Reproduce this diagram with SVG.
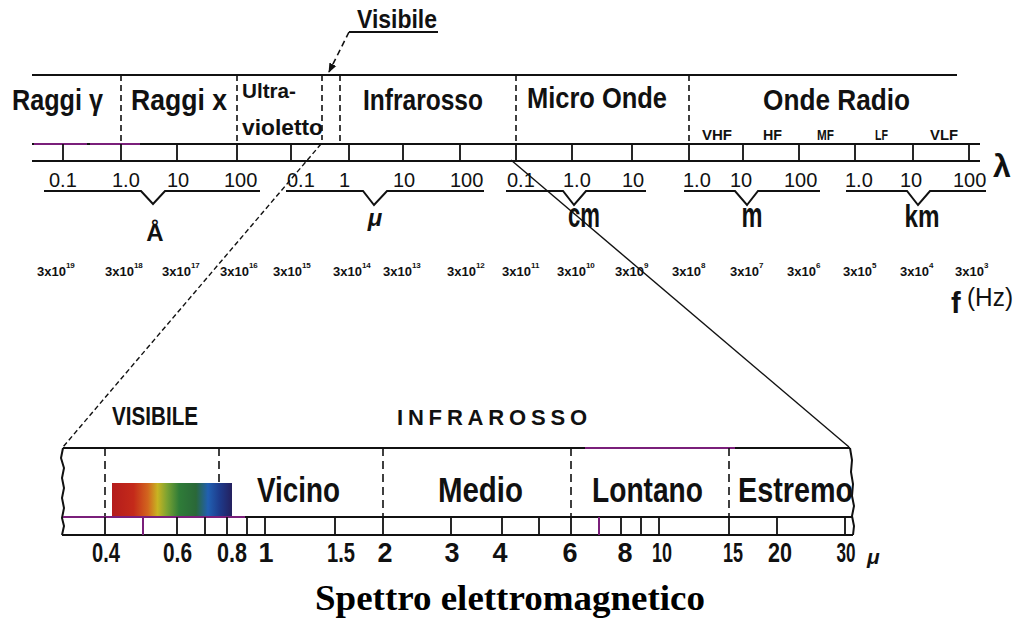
<svg xmlns="http://www.w3.org/2000/svg" width="1015" height="622" viewBox="0 0 1015 622">
  <defs>
    <style>
      .ln { stroke: #111; stroke-width: 2; fill: none; }
      .tk { stroke: #111; stroke-width: 1.8; fill: none; }
      .pu { stroke: #7a1f7a; stroke-width: 2; fill: none; }
      .ds { stroke: #111; stroke-width: 1.6; fill: none; stroke-dasharray: 6 4; }
      .dsb { stroke: #111; stroke-width: 1.6; fill: none; stroke-dasharray: 8 5; }
      .hd { font-family: "Liberation Sans", Arial, sans-serif; font-weight: bold; fill: #111; }
      .sc { font-family: "Liberation Sans", Arial, sans-serif; font-size: 20px; fill: #111; }
      .un { font-family: "Liberation Sans", Arial, sans-serif; font-weight: bold; fill: #111; }
      .fq { font-family: "Liberation Sans", Arial, sans-serif; font-weight: bold; font-size: 13px; fill: #111; }
      .fq tspan.e { font-size: 8px; }
      .bn { font-family: "Liberation Sans", Arial, sans-serif; font-weight: bold; font-size: 27px; fill: #111; text-anchor: middle; }
      .bl { font-family: "Liberation Sans", Arial, sans-serif; font-weight: bold; font-size: 35px; fill: #111; }
    </style>
    <linearGradient id="spectrum" x1="0" y1="0" x2="1" y2="0">
      <stop offset="0" stop-color="#b41c1c"/>
      <stop offset="0.18" stop-color="#c42a1a"/>
      <stop offset="0.3" stop-color="#d2661e"/>
      <stop offset="0.38" stop-color="#c8b422"/>
      <stop offset="0.46" stop-color="#7aa232"/>
      <stop offset="0.56" stop-color="#2f7c38"/>
      <stop offset="0.7" stop-color="#2a6838"/>
      <stop offset="0.8" stop-color="#2160b2"/>
      <stop offset="0.9" stop-color="#1e3a8a"/>
      <stop offset="1" stop-color="#24205e"/>
    </linearGradient>
    <marker id="arrow" viewBox="0 0 10 10" refX="9" refY="5" markerWidth="6" markerHeight="6" orient="auto">
      <path d="M0,1 L10,5 L0,9 z" fill="#111"/>
    </marker>
  </defs>

  <rect width="1015" height="622" fill="#fff"/>

  <!-- upper band: region names -->
  <g id="upper-band">
    <line class="ln" x1="32" y1="75" x2="957" y2="75"/>
    <line class="ds" x1="121" y1="75" x2="121" y2="144"/>
    <line class="ds" x1="237" y1="75" x2="237" y2="144"/>
    <line class="ds" x1="322" y1="75" x2="322" y2="140"/>
    <line class="ds" x1="340" y1="75" x2="340" y2="144"/>
    <line class="ds" x1="516" y1="75" x2="516" y2="144"/>
    <line class="ds" x1="689" y1="75" x2="689" y2="144"/>

    <text class="hd" x="12" y="110" font-size="29" textLength="91" lengthAdjust="spacingAndGlyphs">Raggi γ</text>
    <text class="hd" x="131" y="110" font-size="29" textLength="96" lengthAdjust="spacingAndGlyphs">Raggi x</text>
    <text class="hd" x="242" y="98" font-size="21" textLength="54" lengthAdjust="spacingAndGlyphs">Ultra-</text>
    <text class="hd" x="242" y="135" font-size="22" textLength="81" lengthAdjust="spacingAndGlyphs">violetto</text>
    <text class="hd" x="363" y="110" font-size="29" textLength="120" lengthAdjust="spacingAndGlyphs">Infrarosso</text>
    <text class="hd" x="527" y="108" font-size="29" textLength="140" lengthAdjust="spacingAndGlyphs">Micro Onde</text>
    <text class="hd" x="763" y="110" font-size="29" textLength="147" lengthAdjust="spacingAndGlyphs">Onde Radio</text>

    <text class="hd" x="702" y="140" font-size="15" textLength="30" lengthAdjust="spacingAndGlyphs">VHF</text>
    <text class="hd" x="763" y="140" font-size="15" textLength="19" lengthAdjust="spacingAndGlyphs">HF</text>
    <text class="hd" x="817" y="140" font-size="15" textLength="17" lengthAdjust="spacingAndGlyphs">MF</text>
    <text class="hd" x="875" y="140" font-size="15" textLength="13" lengthAdjust="spacingAndGlyphs">LF</text>
    <text class="hd" x="930" y="140" font-size="15" textLength="28" lengthAdjust="spacingAndGlyphs">VLF</text>

    <!-- visible-band callout -->
    <text class="hd" x="357" y="28" font-size="25" textLength="80" lengthAdjust="spacingAndGlyphs">Visibile</text>
    <line class="ln" x1="349" y1="32" x2="438" y2="32"/>
    <line class="ds" x1="349" y1="32" x2="329" y2="72" stroke-dasharray="4 3" marker-end="url(#arrow)"/>
  </g>

  <!-- wavelength ruler -->
  <g id="wavelength-ruler">
    <line class="ln" x1="32" y1="144" x2="980" y2="144"/>
    <line class="pu" x1="34" y1="144" x2="87" y2="144"/>
    <line class="pu" x1="90" y1="144" x2="140" y2="144"/>
    <line class="ln" x1="32" y1="161" x2="980" y2="161"/>
    <path class="tk" d="M63,144V161 M121,144V161 M177,144V161 M237,144V161 M291,144V161 M349,144V161 M403,144V161 M460,144V161 M516,144V161 M572,144V161 M632,144V161 M689,144V161 M743,144V161 M799,144V161 M855,144V161 M913,144V161 M969,144V161"/>
    <text class="un" x="993" y="177" font-size="32">λ</text>

    <g id="scale-angstrom">
      <text class="sc" x="49" y="187">0.1</text>
      <text class="sc" x="112" y="187">1.0</text>
      <text class="sc" x="167" y="187">10</text>
      <text class="sc" x="224" y="187">100</text>
      <path class="ln" d="M44,191 H141 L153,204 L165,191 H260"/>
      <text class="un" x="155" y="241" font-size="24" text-anchor="middle">Å</text>
    </g>
    <g id="scale-micron">
      <text class="sc" x="287" y="187">0.1</text>
      <text class="sc" x="339" y="187">1</text>
      <text class="sc" x="393" y="187">10</text>
      <text class="sc" x="450" y="187">100</text>
      <path class="ln" d="M286,191 H363 L374,205 L387,191 H484"/>
      <text class="un" x="375" y="226" font-size="24" font-style="italic" text-anchor="middle">μ</text>
    </g>
    <g id="scale-cm">
      <text class="sc" x="507" y="187">0.1</text>
      <text class="sc" x="563" y="187">1.0</text>
      <text class="sc" x="622" y="187">10</text>
      <path class="ln" d="M506,191 H563 L574,205 L586,191 H646"/>
      <text class="un" transform="translate(584,227) scale(1,1.35)" font-size="26" text-anchor="middle" textLength="32" lengthAdjust="spacingAndGlyphs">cm</text>
    </g>
    <g id="scale-m">
      <text class="sc" x="683" y="187">1.0</text>
      <text class="sc" x="730" y="187">10</text>
      <text class="sc" x="784" y="187">100</text>
      <path class="ln" d="M684,191 H735 L747,205 L758,191 H820"/>
      <text class="un" transform="translate(752,227) scale(1,1.35)" font-size="26" text-anchor="middle" textLength="21" lengthAdjust="spacingAndGlyphs">m</text>
    </g>
    <g id="scale-km">
      <text class="sc" x="845" y="187">1.0</text>
      <text class="sc" x="900" y="187">10</text>
      <text class="sc" x="953" y="187">100</text>
      <path class="ln" d="M846,191 H907 L918,205 L930,191 H986"/>
      <text class="un" transform="translate(922,227) scale(1,1.2)" font-size="26" text-anchor="middle" textLength="35" lengthAdjust="spacingAndGlyphs">km</text>
    </g>
  </g>

  <!-- frequency row -->
  <g id="frequency-row">
    <text class="fq" x="37" y="276">3x10<tspan class="e" dy="-8">19</tspan></text>
    <text class="fq" x="105" y="276">3x10<tspan class="e" dy="-8">18</tspan></text>
    <text class="fq" x="162" y="276">3x10<tspan class="e" dy="-8">17</tspan></text>
    <text class="fq" x="220" y="276">3x10<tspan class="e" dy="-8">16</tspan></text>
    <text class="fq" x="273" y="276">3x10<tspan class="e" dy="-8">15</tspan></text>
    <text class="fq" x="333" y="276">3x10<tspan class="e" dy="-8">14</tspan></text>
    <text class="fq" x="383" y="276">3x10<tspan class="e" dy="-8">13</tspan></text>
    <text class="fq" x="447" y="276">3x10<tspan class="e" dy="-8">12</tspan></text>
    <text class="fq" x="502" y="276">3x10<tspan class="e" dy="-8">11</tspan></text>
    <text class="fq" x="557" y="276">3x10<tspan class="e" dy="-8">10</tspan></text>
    <text class="fq" x="615" y="276">3x10<tspan class="e" dy="-8">9</tspan></text>
    <text class="fq" x="672" y="276">3x10<tspan class="e" dy="-8">8</tspan></text>
    <text class="fq" x="730" y="276">3x10<tspan class="e" dy="-8">7</tspan></text>
    <text class="fq" x="787" y="276">3x10<tspan class="e" dy="-8">6</tspan></text>
    <text class="fq" x="843" y="276">3x10<tspan class="e" dy="-8">5</tspan></text>
    <text class="fq" x="900" y="276">3x10<tspan class="e" dy="-8">4</tspan></text>
    <text class="fq" x="955" y="276">3x10<tspan class="e" dy="-8">3</tspan></text>
    <text class="un" x="951" y="313" font-size="29">f</text>
    <text x="967" y="306" style="font-family: 'Liberation Sans', Arial, sans-serif; font-size: 25px; fill: #111;" textLength="46" lengthAdjust="spacingAndGlyphs">(Hz)</text>
  </g>

  <!-- projection lines to the enlarged band -->
  <g id="connectors">
    <line x1="321" y1="144" x2="63" y2="447" stroke="#111" stroke-width="1.4" stroke-dasharray="5 3"/>
    <line x1="511" y1="160" x2="849" y2="447" stroke="#111" stroke-width="1.4"/>
  </g>

  <!-- enlarged visible / infrared band -->
  <g id="enlarged-band">
    <text class="hd" x="112" y="425" font-size="25" textLength="86" lengthAdjust="spacingAndGlyphs">VISIBILE</text>
    <text class="hd" x="397" y="425" font-size="22" textLength="190" lengthAdjust="spacing">INFRAROSSO</text>

    <line class="ln" x1="63" y1="448" x2="850" y2="448"/>
    <line class="pu" x1="585" y1="448" x2="735" y2="448"/>
    <path class="ln" d="M63,448 L61,458 L64,468 L62,478 L64,488 L62,498 L64,508 L62,518 L64,526 L62,535"/>
    <path class="ln" d="M850,448 L852,460 L851,472 L853,484 L852,496 L854,506 L852,516 L854,526 L853,535"/>

    <line class="dsb" x1="105" y1="448" x2="105" y2="517"/>
    <line class="dsb" x1="219" y1="448" x2="219" y2="517"/>
    <line class="dsb" x1="383" y1="448" x2="383" y2="517"/>
    <line class="dsb" x1="571" y1="448" x2="571" y2="517"/>
    <line class="dsb" x1="729" y1="448" x2="729" y2="517"/>

    <rect x="112" y="483" width="120" height="34" fill="url(#spectrum)"/>

    <text class="bl" x="257" y="502" textLength="83" lengthAdjust="spacingAndGlyphs">Vicino</text>
    <text class="bl" x="438" y="502" textLength="85" lengthAdjust="spacingAndGlyphs">Medio</text>
    <text class="bl" x="592" y="502" textLength="111" lengthAdjust="spacingAndGlyphs">Lontano</text>
    <text class="bl" x="738" y="502" textLength="115" lengthAdjust="spacingAndGlyphs">Estremo</text>

    <line class="ln" x1="62" y1="517" x2="853" y2="517"/>
    <line class="pu" x1="63" y1="517" x2="245" y2="517"/>
    <line class="ln" x1="62" y1="535" x2="853" y2="535"/>
    <path class="tk" d="M105,517V535 M177,517V535 M205,517V535 M227,517V535 M247,517V535 M265,517V535 M335,517V535 M383,517V535 M451,517V535 M502,517V535 M539,517V535 M571,517V535 M621,517V535 M641,517V535 M659,517V535 M729,517V535 M777,517V535 M845,517V535"/>
    <path class="pu" d="M143,517V535 M599,517V535"/>

    <text class="bn" x="106" y="562" textLength="28" lengthAdjust="spacingAndGlyphs">0.4</text>
    <text class="bn" x="177.5" y="562" textLength="29" lengthAdjust="spacingAndGlyphs">0.6</text>
    <text class="bn" x="232" y="562" textLength="30" lengthAdjust="spacingAndGlyphs">0.8</text>
    <text class="bn" x="266" y="562">1</text>
    <text class="bn" x="341" y="562" textLength="28" lengthAdjust="spacingAndGlyphs">1.5</text>
    <text class="bn" x="385" y="562">2</text>
    <text class="bn" x="452" y="562">3</text>
    <text class="bn" x="500" y="562">4</text>
    <text class="bn" x="570" y="562">6</text>
    <text class="bn" x="625" y="562">8</text>
    <text class="bn" x="662" y="562" textLength="20" lengthAdjust="spacingAndGlyphs">10</text>
    <text class="bn" x="733" y="562" textLength="20" lengthAdjust="spacingAndGlyphs">15</text>
    <text class="bn" x="780" y="562" textLength="24" lengthAdjust="spacingAndGlyphs">20</text>
    <text class="bn" x="846" y="562" textLength="19" lengthAdjust="spacingAndGlyphs">30</text>
    <text class="un" x="867" y="564" font-size="21" font-style="italic">μ</text>
  </g>

  <!-- caption -->
  <text id="caption" x="510" y="610" font-family="'Liberation Serif', 'Times New Roman', serif" font-weight="bold" font-size="35" text-anchor="middle" textLength="390" lengthAdjust="spacingAndGlyphs" fill="#000">Spettro elettromagnetico</text>
</svg>
